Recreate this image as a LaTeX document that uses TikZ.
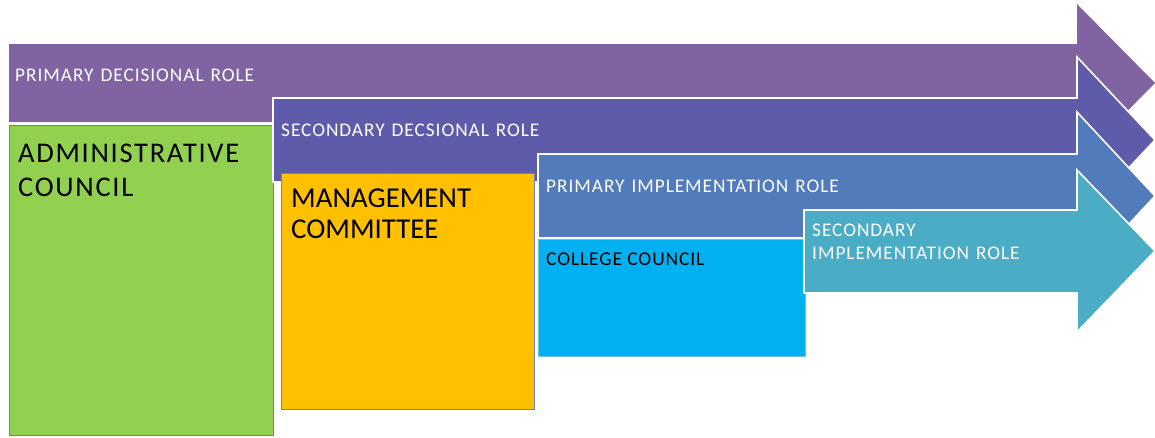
\documentclass[tikz,border=0pt]{standalone}
\usepackage{fontspec}
\setmainfont{Carlito}
\newfontfamily\widefont[LetterSpace=5]{Carlito}
\newfontfamily\collegefont[LetterSpace=4.5]{Carlito}
\newfontfamily\bigwidefont[LetterSpace=6]{Carlito}
\newcommand\arrowtextfont{\widefont\fontsize{19.3}{23}\selectfont\spaceskip=0.36em plus 0.1em\relax}
\newcommand\bigtextfont{\bigwidefont\fontsize{28.5}{34}\selectfont}
\newcommand\mgmttextfont{\fontsize{28.8}{34}\selectfont}
\newcommand\smalltextfont{\collegefont\fontsize{19.5}{23}\selectfont}
\definecolor{arrA}{HTML}{8064A2}
\definecolor{arrB}{HTML}{5F5BAB}
\definecolor{arrC}{HTML}{517BBA}
\definecolor{arrD}{HTML}{4BACC6}
\definecolor{boxG}{HTML}{92D050}
\definecolor{boxO}{HTML}{FFC000}
\definecolor{boxB}{HTML}{00B0F0}
\definecolor{edgeG}{HTML}{8A6FB0}
\definecolor{edgeO}{HTML}{6F80C8}
\definecolor{edgeB}{HTML}{70C2DE}
\tikzset{
  arrowlbl/.style={anchor=base west, inner sep=0pt, text=white, font=\arrowtextfont},
  biglbl/.style={anchor=base west, inner sep=0pt, text=black, font=\bigtextfont},
  mgmtlbl/.style={anchor=base west, inner sep=0pt, text=black, font=\mgmttextfont},
  smalllbl/.style={anchor=base west, inner sep=0pt, text=black, font=\smalltextfont},
  rolearrow/.style={draw=white, line width=1.6pt, line join=miter},
  unitbox/.style={line width=1pt}
}
\begin{document}
\begin{tikzpicture}[x=1pt,y=-1pt]
\useasboundingbox (0,0) rectangle (1155,437);
% arrow 1
\fill[arrA] (9,44) -- (1077,44) -- (1077,4) -- (1155,83) -- (1077,162) -- (1077,122) -- (9,122) -- cycle;
% green box
\draw[unitbox, fill=boxG, draw=edgeG] (9,125) rectangle (273,435);
% arrow 2
\filldraw[rolearrow, fill=arrB] (273,98) -- (1077,98) -- (1077,57) -- (1155,140) -- (1077,223) -- (1077,182) -- (273,182) -- cycle;
% orange box
\draw[unitbox, fill=boxO, draw=edgeO] (281,173) rectangle (534,409);
% arrow 3
\filldraw[rolearrow, fill=arrC] (538,154) -- (1077,154) -- (1077,112) -- (1155,196) -- (1077,280) -- (1077,238) -- (538,238) -- cycle;
% blue box
\draw[unitbox, fill=boxB, draw=edgeB] (538,239) rectangle (805,356);
% arrow 4
\filldraw[rolearrow, fill=arrD] (804,210) -- (1077,210) -- (1077,170) -- (1155,251) -- (1077,332) -- (1077,293) -- (804,293) -- cycle;
% labels
\node[arrowlbl] (t1) at (15,81) {PRIMARY DECISIONAL ROLE};
\node[arrowlbl] (t2) at (281,136) {SECONDARY DECSIONAL ROLE};
\node[arrowlbl] (t3) at (546,192) {PRIMARY IMPLEMENTATION ROLE};
\node[arrowlbl] (t4a) at (812,236) {SECONDARY};
\node[arrowlbl] (t4b) at (812,259) {IMPLEMENTATION ROLE};
\node[biglbl] (g1) at (18,162) {ADMINISTRATIVE};
\node[biglbl] (g2) at (18,196) {COUNCIL};
\node[mgmtlbl] (o1) at (291,207) {MANAGEMENT};
\node[mgmtlbl] (o2) at (291,238) {COMMITTEE};
\node[smalllbl] (b1) at (546,265) {COLLEGE COUNCIL};
\end{tikzpicture}
\end{document}
